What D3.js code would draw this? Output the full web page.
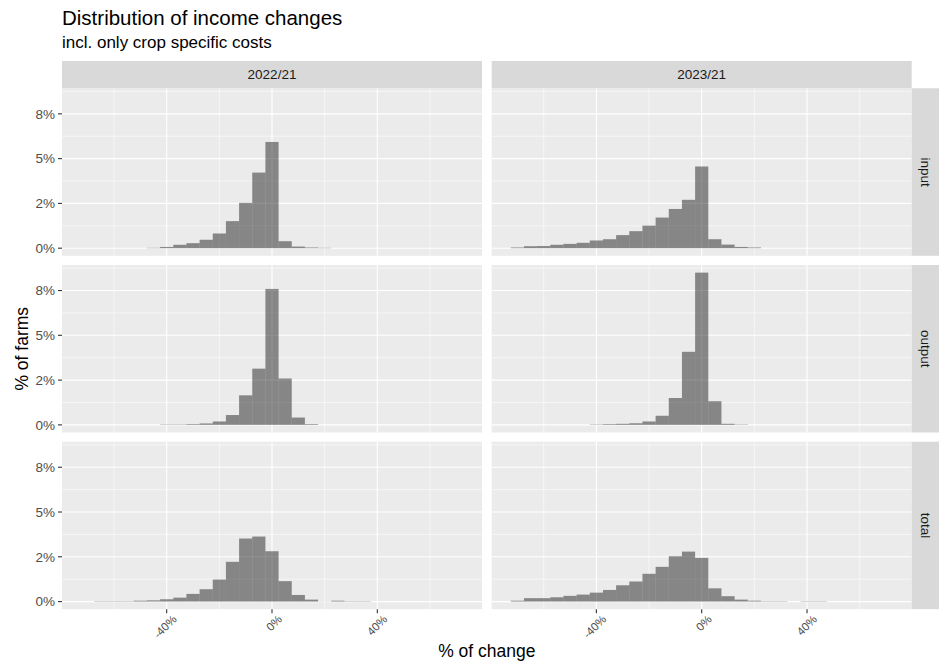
<!DOCTYPE html>
<html>
<head>
<meta charset="utf-8">
<script src="https://cdn.jsdelivr.net/npm/d3@7"></script>
<style>
  body { margin: 0; background: #fff; }
  text { font-family: "Liberation Sans", Arial, sans-serif; }
</style>
</head>
<body>
<script>
// facet labels
let years = ["2022/21", "2023/21"];
let types = ["input", "output", "total"];

// histogram bin centres (bin width 5 %)
let binCenters = [-70, -65, -60, -55, -50, -45, -40, -35, -30, -25, -20, -15,
                  -10, -5, 0, 5, 10, 15, 20, 25, 30, 35, 40, 45];

// % of farms per bin
let input2022  = [0, 0, 0, 0, 0, 0.02, 0.07, 0.19, 0.28, 0.47, 0.82, 1.51,
                  2.53, 4.22, 5.93, 0.39, 0.09, 0.04, 0.02, 0, 0, 0, 0, 0];
let input2023  = [0.04, 0.11, 0.12, 0.19, 0.24, 0.30, 0.43, 0.50, 0.73, 0.95, 1.26, 1.71,
                  2.19, 2.70, 4.56, 0.50, 0.20, 0.07, 0.04, 0, 0, 0, 0, 0];
let output2022 = [0, 0, 0, 0, 0, 0, 0.02, 0.02, 0.04, 0.08, 0.19, 0.55,
                  1.65, 3.14, 7.59, 2.59, 0.41, 0.04, 0, 0, 0, 0, 0, 0];
let output2023 = [0, 0, 0, 0, 0, 0, 0.02, 0.04, 0.06, 0.09, 0.19, 0.51,
                  1.50, 4.08, 8.50, 1.32, 0.06, 0.02, 0, 0, 0, 0, 0, 0];
let total2022  = [0, 0.02, 0.02, 0.02, 0.05, 0.07, 0.13, 0.22, 0.43, 0.69, 1.23, 2.22,
                  3.52, 3.63, 2.81, 1.14, 0.37, 0.11, 0.01, 0.05, 0.02, 0.02, 0, 0];
let total2023  = [0.05, 0.19, 0.19, 0.24, 0.32, 0.39, 0.50, 0.65, 0.91, 1.12, 1.55, 1.94,
                  2.53, 2.79, 2.44, 0.74, 0.30, 0.11, 0.05, 0.02, 0.02, 0, 0.02, 0.02];

// axis ticks
let xTicks = [-40, 0, 40];
let xMinor = [-60, -20, 20, 60];
let xTickLabels = ["-40%", "0%", "40%"];
let yTicks = [0, 2.5, 5, 7.5];
let yMinor = [1.25, 3.75, 6.25, 8.75];
let yTickLabels = ["0%", "2%", "5%", "8%"];
let xLimits = [-72.5, 72.5];
let binWidth = 5;

// one entry per panel
let series = {
  "input":  [input2022, input2023],
  "output": [output2022, output2023],
  "total":  [total2022, total2023]
};

let width = 945, height = 663;
let panel = {left: 62, top: 88.3, w: 420, h: 167.5, gapX: 9.7, gapY: 9.2};
let stripH = 27.3;

let svg = d3.select("body").append("svg")
    .attr("width", width)
    .attr("height", height);

// scales shared by all panels (ggplot style 5% expansion)
let xPad = (xLimits[1] - xLimits[0]) * 0.05;
let x = d3.scaleLinear()
    .domain([xLimits[0] - xPad, xLimits[1] + xPad])
    .range([0, panel.w]);

let yMax = d3.max([input2022, input2023, output2022, output2023, total2022, total2023], s => d3.max(s));
let y = d3.scaleLinear()
    .domain([-yMax * 0.05, yMax * 1.05])
    .range([panel.h, 0]);

types.forEach(function(type, row) {
  years.forEach(function(year, col) {
    let px = panel.left + col * (panel.w + panel.gapX);
    let py = panel.top + row * (panel.h + panel.gapY);
    let g = svg.append("g").attr("transform", "translate(" + px + "," + py + ")");

    // background
    g.append("rect")
        .attr("width", panel.w)
        .attr("height", panel.h)
        .attr("fill", "#EBEBEB");

    // minor grid
    g.selectAll(".xminor").data(xMinor).enter().append("line")
        .attr("x1", d => x(d)).attr("x2", d => x(d))
        .attr("y1", 0).attr("y2", panel.h)
        .attr("stroke", "#fff").attr("stroke-width", 0.55);
    g.selectAll(".yminor").data(yMinor).enter().append("line")
        .attr("x1", 0).attr("x2", panel.w)
        .attr("y1", d => y(d)).attr("y2", d => y(d))
        .attr("stroke", "#fff").attr("stroke-width", 0.55);

    // major grid
    g.selectAll(".xmajor").data(xTicks).enter().append("line")
        .attr("x1", d => x(d)).attr("x2", d => x(d))
        .attr("y1", 0).attr("y2", panel.h)
        .attr("stroke", "#fff").attr("stroke-width", 1.1);
    g.selectAll(".ymajor").data(yTicks).enter().append("line")
        .attr("x1", 0).attr("x2", panel.w)
        .attr("y1", d => y(d)).attr("y2", d => y(d))
        .attr("stroke", "#fff").attr("stroke-width", 1.1);

    // histogram bars
    let values = series[type][col];
    let bars = binCenters.map((c, i) => ({c: c, v: values[i]})).filter(d => d.v > 0);
    g.selectAll(".bar").data(bars).enter().append("rect")
        .attr("x", d => x(d.c - binWidth / 2))
        .attr("width", d => x(d.c + binWidth / 2) - x(d.c - binWidth / 2))
        .attr("y", d => y(d.v))
        .attr("height", d => y(0) - y(d.v))
        .attr("fill", "#000")
        .attr("fill-opacity", 0.43);

    // top strip
    if (row === 0) {
      svg.append("rect")
          .attr("x", px).attr("y", panel.top - stripH)
          .attr("width", panel.w).attr("height", stripH)
          .attr("fill", "#D9D9D9");
      svg.append("text")
          .attr("x", px + panel.w / 2).attr("y", panel.top - stripH / 2)
          .attr("dy", "0.35em")
          .attr("text-anchor", "middle")
          .attr("font-size", 13.5)
          .attr("fill", "#1A1A1A")
          .text(year);
    }

    // right strip
    if (col === 1) {
      let sx = px + panel.w;
      svg.append("rect")
          .attr("x", sx).attr("y", py)
          .attr("width", stripH).attr("height", panel.h)
          .attr("fill", "#D9D9D9");
      svg.append("text")
          .attr("transform", "translate(" + (sx + stripH / 2) + "," + (py + panel.h / 2) + ") rotate(90)")
          .attr("dy", "0.35em")
          .attr("text-anchor", "middle")
          .attr("font-size", 13.5)
          .attr("fill", "#1A1A1A")
          .text(type);
    }

    // y axis on the left column
    if (col === 0) {
      yTicks.forEach(function(t, i) {
        g.append("line")
            .attr("x1", -4).attr("x2", 0)
            .attr("y1", y(t)).attr("y2", y(t))
            .attr("stroke", "#333").attr("stroke-width", 1.1);
        g.append("text")
            .attr("x", -7).attr("y", y(t))
            .attr("dy", "0.35em")
            .attr("text-anchor", "end")
            .attr("font-size", 13.5)
            .attr("fill", "#4D4D4D")
            .text(yTickLabels[i]);
      });
    }

    // x axis on the bottom row, labels turned 45 degrees
    if (row === types.length - 1) {
      xTicks.forEach(function(t, i) {
        g.append("line")
            .attr("x1", x(t)).attr("x2", x(t))
            .attr("y1", panel.h).attr("y2", panel.h + 4)
            .attr("stroke", "#333").attr("stroke-width", 1.1);
        g.append("text")
            .attr("transform", "translate(" + (x(t) + 5) + "," + (panel.h + 5) + ") rotate(-45)")
            .attr("text-anchor", "end")
            .attr("dy", "0.7em")
            .attr("font-size", 11.5)
            .attr("fill", "#4D4D4D")
            .text(xTickLabels[i]);
      });
    }
  });
});

// titles
svg.append("text")
    .attr("x", panel.left).attr("y", 25)
    .attr("font-size", 20.5)
    .attr("fill", "#000")
    .text("Distribution of income changes");
svg.append("text")
    .attr("x", panel.left).attr("y", 48)
    .attr("font-size", 17)
    .attr("fill", "#000")
    .text("incl. only crop specific costs");

// axis titles
let plotRight = panel.left + 2 * panel.w + panel.gapX;
let plotBottom = panel.top + 3 * panel.h + 2 * panel.gapY;
svg.append("text")
    .attr("x", (panel.left + plotRight) / 2).attr("y", 657)
    .attr("text-anchor", "middle")
    .attr("font-size", 17.5)
    .attr("fill", "#000")
    .text("% of change");
svg.append("text")
    .attr("transform", "translate(28," + (panel.top + plotBottom) / 2 + ") rotate(-90)")
    .attr("text-anchor", "middle")
    .attr("font-size", 17.5)
    .attr("fill", "#000")
    .text("% of farms");
</script>
</body>
</html>
